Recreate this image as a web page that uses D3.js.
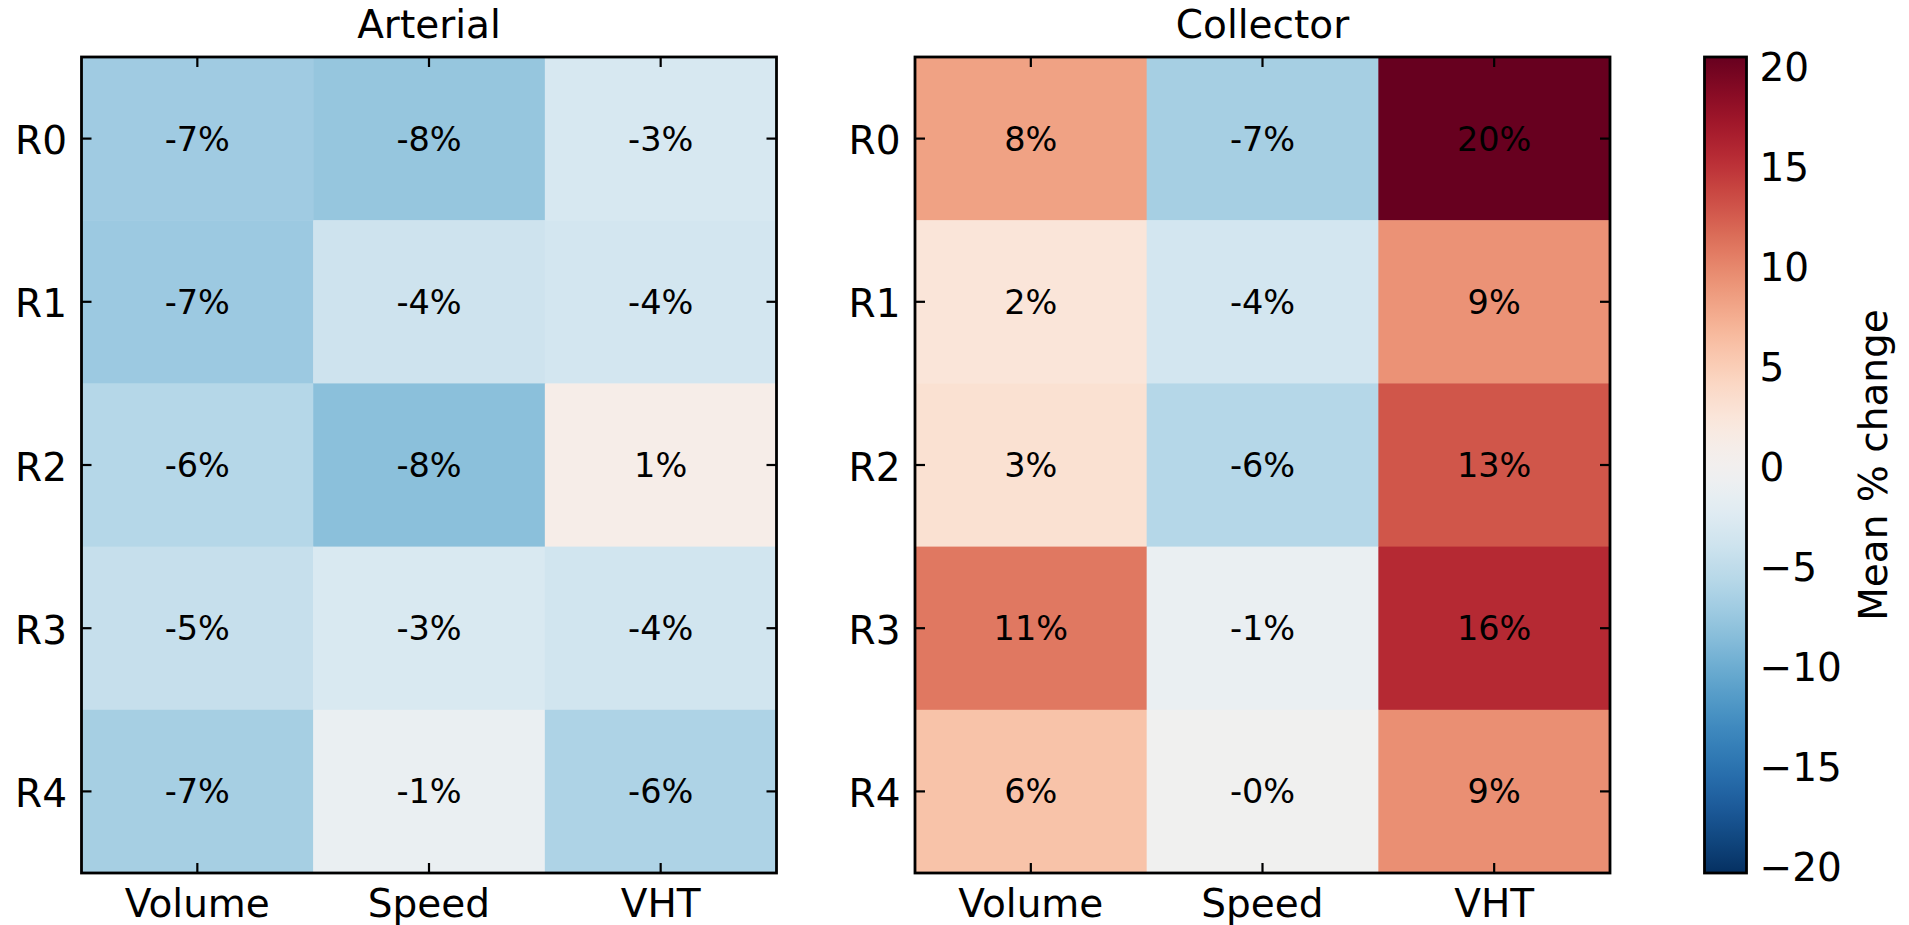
<!DOCTYPE html>
<html>
<head>
<meta charset="utf-8">
<script src="https://cdn.jsdelivr.net/npm/d3@7/dist/d3.min.js"></script>
<style>
  html, body { margin: 0; padding: 0; background: #fff; }
  svg text { font-family: "DejaVu Sans", sans-serif; fill: #000; }
</style>
</head>
<body>
<svg id="chart" width="1909" height="925"></svg>
<script>
// ---- data ----
const regions = ["R0", "R1", "R2", "R3", "R4"];
const metrics = ["Volume", "Speed", "VHT"];
const panelTitles = ["Arterial", "Collector"];
// rows = regions, columns = metrics (mean % change)
const arterialValues = [
  [-7.2, -7.8, -3.2],
  [-7.4, -4.0, -3.6],
  [-5.8, -8.4,  0.9],
  [-4.6, -3.0, -3.7],
  [-6.8, -1.2, -6.3]
];
const collectorValues = [
  [ 8.2, -6.8, 20.4],
  [ 2.4, -3.6,  9.2],
  [ 3.0, -5.8, 12.8],
  [10.8, -1.2, 15.6],
  [ 5.8, -0.3,  9.4]
];
const colorbarTicks = [-20, -15, -10, -5, 0, 5, 10, 15, 20];
const colorbarLabel = "Mean % change";

// ---- layout ----
const svg = d3.select("#chart");
const plotTop = 57, plotBottom = 873;
const panels = [
  { title: panelTitles[0], values: arterialValues, x0: 81.5, x1: 776.5 },
  { title: panelTitles[1], values: collectorValues, x0: 915, x1: 1610 }
];
const cb = { x0: 1704.5, x1: 1746.5 };
const tickFont = 39, annFont = 33.5;

const allVals = arterialValues.flat().concat(collectorValues.flat());
const vmax = d3.max(allVals, v => Math.abs(v));
const color = d3.scaleDiverging(t => d3.interpolateRdBu(1 - t)).domain([-vmax, 0, vmax]);

const fmtPct = v => (v < 0 ? "-" : "") + Math.abs(v).toFixed(0) + "%";

const y = d3.scaleBand().domain(regions).range([plotTop, plotBottom]);

panels.forEach(p => {
  const x = d3.scaleBand().domain(metrics).range([p.x0, p.x1]);
  const g = svg.append("g");
  const cells = [];
  p.values.forEach((row, i) => row.forEach((v, j) => cells.push({ r: regions[i], m: metrics[j], v })));

  g.selectAll("rect.cell").data(cells).enter().append("rect")
    .attr("x", d => x(d.m)).attr("y", d => y(d.r))
    .attr("width", x.bandwidth() + 0.5).attr("height", y.bandwidth() + 0.5)
    .attr("fill", d => color(d.v));

  g.selectAll("text.ann").data(cells).enter().append("text")
    .attr("x", d => x(d.m) + x.bandwidth() / 2)
    .attr("y", d => y(d.r) + y.bandwidth() / 2 + 12)
    .attr("text-anchor", "middle")
    .style("font-size", annFont + "px")
    .text(d => fmtPct(d.v));

  // ticks (inward, all four sides)
  const tl = 10, tw = 2.2;
  metrics.forEach(m => {
    const cx = x(m) + x.bandwidth() / 2;
    g.append("line").attr("x1", cx).attr("x2", cx).attr("y1", plotBottom).attr("y2", plotBottom - tl)
      .attr("stroke", "#000").attr("stroke-width", tw);
    g.append("line").attr("x1", cx).attr("x2", cx).attr("y1", plotTop).attr("y2", plotTop + tl)
      .attr("stroke", "#000").attr("stroke-width", tw);
    g.append("text").attr("x", cx).attr("y", 917).attr("text-anchor", "middle")
      .style("font-size", tickFont + "px").text(m);
  });
  regions.forEach(r => {
    const cy = y(r) + y.bandwidth() / 2;
    g.append("line").attr("x1", p.x0).attr("x2", p.x0 + tl).attr("y1", cy).attr("y2", cy)
      .attr("stroke", "#000").attr("stroke-width", tw);
    g.append("line").attr("x1", p.x1).attr("x2", p.x1 - tl).attr("y1", cy).attr("y2", cy)
      .attr("stroke", "#000").attr("stroke-width", tw);
    g.append("text").attr("x", p.x0 - 14.5).attr("y", cy + 15.5).attr("text-anchor", "end")
      .style("font-size", tickFont + "px").text(r);
  });

  g.append("rect").attr("x", p.x0).attr("y", plotTop).attr("width", p.x1 - p.x0).attr("height", plotBottom - plotTop)
    .attr("fill", "none").attr("stroke", "#000").attr("stroke-width", 2.8);

  g.append("text").attr("x", (p.x0 + p.x1) / 2).attr("y", 38).attr("text-anchor", "middle")
    .style("font-size", tickFont + "px").text(p.title);
});

// ---- colorbar ----
const defs = svg.append("defs");
const grad = defs.append("linearGradient").attr("id", "cbgrad")
  .attr("x1", "0").attr("y1", "1").attr("x2", "0").attr("y2", "0");
d3.range(0, 1.0001, 0.02).forEach(t => {
  grad.append("stop").attr("offset", t).attr("stop-color", color(-vmax + 2 * vmax * t));
});
svg.append("rect").attr("x", cb.x0).attr("y", plotTop).attr("width", cb.x1 - cb.x0).attr("height", plotBottom - plotTop)
  .attr("fill", "url(#cbgrad)").attr("stroke", "#000").attr("stroke-width", 2.8);

const cbScale = d3.scaleLinear().domain([-vmax, vmax]).range([plotBottom, plotTop]);
const cbAxis = d3.axisRight(cbScale).tickValues(colorbarTicks).tickSize(0).tickPadding(13).tickFormat(d3.format("d"));
const cbg = svg.append("g").attr("transform", `translate(${cb.x1},0)`).call(cbAxis);
cbg.select(".domain").remove();
cbg.selectAll("text").style("font-size", tickFont + "px").style("font-family", "DejaVu Sans")
  .attr("dy", null).attr("y", 15.5).attr("fill", "#000");

svg.append("text")
  .attr("transform", `translate(1887,${(plotTop + plotBottom) / 2}) rotate(-90)`)
  .attr("text-anchor", "middle")
  .style("font-size", tickFont + "px")
  .text(colorbarLabel);
</script>
</body>
</html>
